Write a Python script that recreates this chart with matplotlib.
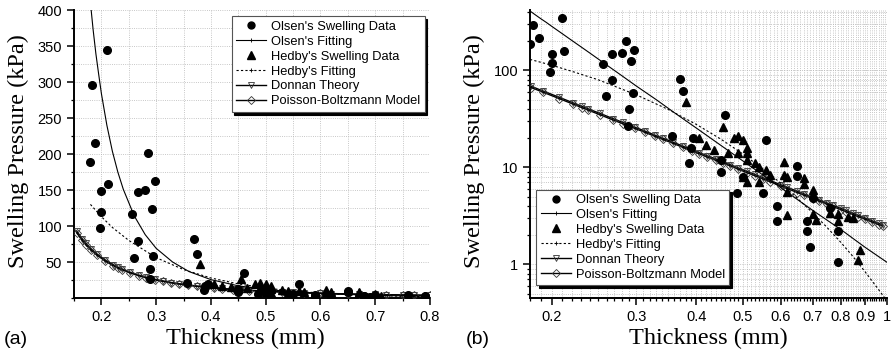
import numpy as np
import matplotlib
matplotlib.use("Agg")
import matplotlib.pyplot as plt
from matplotlib.lines import Line2D
from matplotlib.ticker import FixedLocator, NullFormatter, MultipleLocator, LogLocator, FuncFormatter

# ---- data ----
olsen_x = [0.18, 0.183, 0.188, 0.21, 0.2, 0.212, 0.2, 0.198, 0.255, 0.267, 0.28, 0.286, 0.297, 0.292, 0.267,
           0.259, 0.295, 0.289, 0.288, 0.37, 0.375, 0.356, 0.394, 0.39, 0.387, 0.45, 0.45, 0.46, 0.56, 0.5,
           0.486, 0.55, 0.59, 0.59, 0.68, 0.68, 0.69, 0.70, 0.76, 0.65, 0.65, 0.79, 0.79]
olsen_y = [189, 296, 215, 345, 149, 158, 120, 97, 116, 147, 150, 201, 162, 124, 79,
           55, 59, 40, 27, 82, 61, 21, 20, 16, 11, 12, 9, 35, 19, 8,
           5.4, 5.5, 4.0, 2.8, 2.8, 2.2, 1.5, 4.8, 3.8, 10.3, 8.2, 2.2, 1.07]
hedby_x = [0.38, 0.406, 0.42, 0.436, 0.455, 0.466, 0.48, 0.49, 0.5, 0.51, 0.51, 0.49, 0.51, 0.53, 0.54, 0.5,
           0.51, 0.54, 0.56, 0.57, 0.61, 0.61, 0.62, 0.67, 0.67, 0.62, 0.70, 0.62, 0.70, 0.71, 0.76, 0.79,
           0.79, 0.83, 0.85, 0.88, 0.87]
hedby_y = [47, 20, 17, 15, 26, 14, 20, 21, 19, 16, 14, 14, 12, 11, 10, 8,
           7, 7.1, 9.3, 8.4, 11.4, 8.4, 8, 7.7, 6.8, 5.6, 5.8, 3.2, 3.3, 2.9, 3.4, 3.3,
           2.8, 3.1, 3.0, 1.4, 1.1]

olsen_fit_x = [0.18, 0.185, 0.19, 0.195, 0.2, 0.21, 0.22, 0.23, 0.24, 0.26, 0.28, 0.3, 0.33, 0.36, 0.4, 0.45,
               0.5, 0.6, 0.7, 0.8, 0.9, 1.0]
olsen_fit_y = [410, 372, 339, 311, 284, 240, 204, 175, 151, 114, 88, 69, 50, 36.7, 25.5, 16.9,
               11.7, 6.2, 3.6, 2.3, 1.5, 1.05]
hedby_fit_x = [0.18, 0.2, 0.22, 0.25, 0.3, 0.35, 0.4, 0.45, 0.5, 0.55, 0.6, 0.65, 0.7, 0.75, 0.8, 0.85, 0.9,
               0.95, 1.0]
hedby_fit_y = [130, 113, 98, 80, 56, 39.5, 27.8, 19.6, 13.8, 9.7, 6.9, 4.8, 3.4, 2.4, 1.7, 1.2, 0.84,
               0.59, 0.42]

theory_x = [0.155, 0.165, 0.172, 0.181, 0.192, 0.207, 0.221, 0.231, 0.238, 0.252, 0.268, 0.281, 0.298, 0.312,
            0.328, 0.341, 0.358, 0.375, 0.392, 0.406, 0.421, 0.44, 0.455, 0.47, 0.49, 0.51, 0.53, 0.55, 0.57,
            0.6, 0.62, 0.65, 0.67, 0.7, 0.72, 0.75, 0.77, 0.8, 0.82, 0.85, 0.87, 0.9, 0.93, 0.96, 0.98]
donnan_y = [92.9, 82.3, 75.8, 68.6, 61.2, 52.9, 46.5, 42.6, 40.2, 36.0, 31.9, 29.1, 26.0, 23.8,
            21.5, 20.0, 18.2, 16.6, 15.2, 14.2, 13.2, 12.2, 11.4, 10.7, 9.85, 9.11, 8.45, 7.86, 7.33,
            6.63, 6.22, 5.68, 5.35, 4.91, 4.65, 4.29, 4.08, 3.79, 3.61, 3.36, 3.21, 3.01, 2.82, 2.65, 2.55]
pb_y = [90.5, 80.0, 73.6, 66.6, 59.4, 51.3, 45.1, 41.3, 39.0, 34.9, 30.9, 28.2, 25.2, 23.1,
        20.9, 19.4, 17.7, 16.1, 14.7, 13.8, 12.8, 11.8, 11.1, 10.4, 9.55, 8.84, 8.20, 7.62, 7.11,
        6.43, 6.03, 5.51, 5.19, 4.76, 4.51, 4.16, 3.96, 3.68, 3.50, 3.26, 3.11, 2.92, 2.74, 2.57, 2.47]

labels = ["Olsen's Swelling Data", "Olsen's Fitting", "Hedby's Swelling Data", "Hedby's Fitting",
          "Donnan Theory", "Poisson-Boltzmann Model"]

SANS = "Liberation Sans"; SERIF = "Liberation Serif"
plt.rcParams["font.family"] = SANS
plt.rcParams["xtick.labelsize"] = 10.5; plt.rcParams["ytick.labelsize"] = 10.5

fig = plt.figure(figsize=(8.93, 3.56), dpi=100)
W, H = 893, 356
ax1 = fig.add_axes([74 / W, 58 / H, 356 / W, 288 / H])
ax2 = fig.add_axes([530 / W, 58 / H, 357 / W, 288 / H])

fit_kw = dict(color="black", lw=0.8)
th_kw = dict(color="black", lw=1.0, mfc="none", mec="#333333", mew=0.6, ms=5)


def draw(ax):
    ax.plot(theory_x, donnan_y, marker="v", **th_kw, zorder=3)
    ax.plot(theory_x, pb_y, marker="D", **{**th_kw, "ms": 4}, zorder=3)
    ax.plot(olsen_fit_x, olsen_fit_y, "-", **fit_kw, zorder=4)
    ax.plot(hedby_fit_x, hedby_fit_y, ls=(0, (2, 2)), **fit_kw, zorder=4)
    ax.plot(olsen_x, olsen_y, "o", color="black", ms=5.5, zorder=5)
    ax.plot(hedby_x, hedby_y, "^", color="black", ms=6, zorder=5)
    for s in ["top", "right"]:
        ax.spines[s].set_visible(False)
    for s in ["left", "bottom"]:
        ax.spines[s].set_linewidth(1.4)
    ax.tick_params(which="major", direction="out", length=5, width=1.1)
    ax.tick_params(which="minor", direction="out", length=2.5, width=0.9)
    ax.grid(which="both", ls=":", color="#b5b5b5", lw=0.6)
    ax.set_axisbelow(True)
    ax.set_xlabel("Thickness (mm)", family=SERIF, fontsize=17.5, va="center", ha="center")
    ax.set_ylabel("Swelling Pressure (kPa)", family=SERIF, fontsize=17.5, va="center", ha="center")
    ax.xaxis.set_label_coords(0.48, -0.14)
    ax.yaxis.set_label_coords(-0.157, 0.51)


def legend(ax, **kw):
    handles = [Line2D([], [], ls="none", marker="o", color="black", ms=5),
               Line2D([], [], color="black", lw=0.8, marker="+", ms=3, mew=0.6),
               Line2D([], [], ls="none", marker="^", color="black", ms=5.5),
               Line2D([], [], color="black", lw=0.8, ls=(0, (2, 2)), marker="+", ms=3, mew=0.6),
               Line2D([], [], marker="v", **th_kw),
               Line2D([], [], marker="D", **{**th_kw, "ms": 4})]
    ax.legend(handles, labels, fontsize=9.3, fancybox=False, edgecolor="#555555", framealpha=1,
              shadow={"color": "black", "alpha": 1}, handlelength=2.3, handletextpad=0.4,
              labelspacing=0.22, borderpad=0.35, borderaxespad=0, **kw).get_frame().set_linewidth(0.8)


draw(ax1)
ax1.set_xlim(0.15, 0.8); ax1.set_ylim(0, 400)
ax1.xaxis.set_major_locator(MultipleLocator(0.1)); ax1.xaxis.set_minor_locator(MultipleLocator(0.05))
ax1.yaxis.set_major_locator(FixedLocator([50, 100, 150, 200, 250, 300, 350, 400]))
ax1.yaxis.set_minor_locator(MultipleLocator(25))
ax1.xaxis.set_major_formatter(FuncFormatter(lambda v, p: f"{v:.1f}"))
legend(ax1, loc="upper right", bbox_to_anchor=(0.985, 0.978))

draw(ax2)
ax2.set_xscale("log"); ax2.set_yscale("log")
ax2.set_xlim(0.18, 1.0); ax2.set_ylim(0.45, 420)
xmaj = [0.2, 0.3, 0.4, 0.5, 0.6, 0.7, 0.8, 0.9, 1.0]
ax2.xaxis.set_major_locator(FixedLocator(xmaj))
ax2.xaxis.set_major_formatter(FuncFormatter(lambda v, p: "1" if v >= 0.99 else f"{v:.1f}"))
xmin = [v / 100 for v in range(18, 100) if v % 10 != 0]
ax2.xaxis.set_minor_locator(FixedLocator(xmin)); ax2.xaxis.set_minor_formatter(NullFormatter())
ax2.yaxis.set_major_locator(LogLocator(base=10))
ax2.yaxis.set_minor_locator(LogLocator(base=10, subs=range(2, 10)))
ax2.yaxis.set_major_formatter(FuncFormatter(lambda v, p: f"{v:g}")); ax2.yaxis.set_minor_formatter(NullFormatter())
ax2.xaxis.set_label_coords(0.5, -0.14)
legend(ax2, loc="lower left", bbox_to_anchor=(0.018, 0.045))

fig.text(4 / W, 1 - 340 / H, "(a)", fontsize=14, va="center", ha="left")
fig.text(466 / W, 1 - 340 / H, "(b)", fontsize=14, va="center", ha="left")

fig.savefig("out.png", dpi=100)
